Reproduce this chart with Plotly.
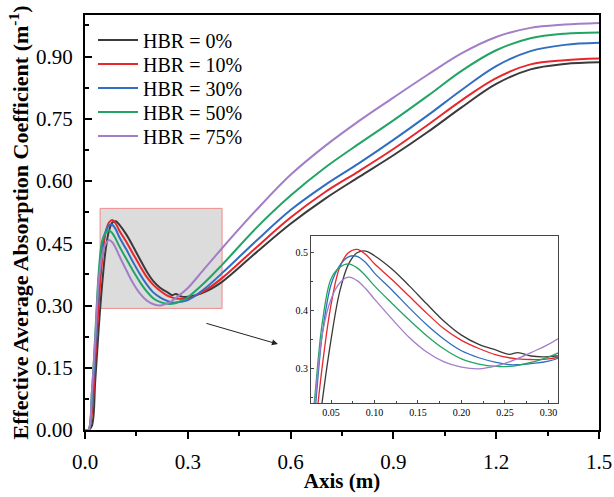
import plotly.graph_objects as go

x_axis_m = [0.0, 0.01, 0.02, 0.03, 0.04, 0.05, 0.06, 0.07, 0.08, 0.09, 0.10,
            0.12, 0.14, 0.16, 0.18, 0.20, 0.22, 0.24, 0.255, 0.265, 0.28, 0.30,
            0.35, 0.40, 0.50, 0.60, 0.70, 0.80, 0.90, 1.00, 1.10, 1.20,
            1.30, 1.40, 1.50]

hbr_0 = [0.0, 0.0, 0.01, 0.12, 0.245, 0.35, 0.433, 0.48, 0.50, 0.503, 0.495,
         0.472, 0.443, 0.412, 0.382, 0.358, 0.342, 0.332, 0.325, 0.328, 0.322, 0.321,
         0.333, 0.357, 0.428, 0.497, 0.557, 0.61, 0.662, 0.718, 0.778, 0.834,
         0.869, 0.882, 0.886]
hbr_10 = [0.0, 0.0, 0.04, 0.17, 0.305, 0.41, 0.475, 0.50, 0.506, 0.497, 0.481,
          0.454, 0.425, 0.396, 0.369, 0.349, 0.335, 0.324, 0.319, 0.317, 0.316, 0.317,
          0.336, 0.366, 0.44, 0.512, 0.573, 0.624, 0.677, 0.735, 0.795, 0.848,
          0.881, 0.891, 0.895]
hbr_30 = [0.0, 0.0, 0.07, 0.20, 0.36, 0.445, 0.478, 0.493, 0.494, 0.483, 0.465,
          0.436, 0.405, 0.376, 0.351, 0.331, 0.319, 0.311, 0.307, 0.307, 0.309, 0.313,
          0.341, 0.378, 0.456, 0.530, 0.590, 0.643, 0.699, 0.758, 0.820, 0.877,
          0.913, 0.928, 0.933]
hbr_50 = [0.0, 0.0, 0.09, 0.23, 0.38, 0.455, 0.475, 0.481, 0.474, 0.460, 0.443,
          0.413, 0.384, 0.357, 0.334, 0.317, 0.308, 0.304, 0.304, 0.306, 0.311, 0.32,
          0.356, 0.398, 0.487, 0.565, 0.632, 0.690, 0.746, 0.805, 0.866, 0.915,
          0.944, 0.955, 0.958]
hbr_75 = [0.0, 0.0, 0.09, 0.22, 0.36, 0.42, 0.448, 0.458, 0.452, 0.438, 0.42,
          0.386, 0.354, 0.329, 0.312, 0.303, 0.300, 0.305, 0.312, 0.318, 0.328, 0.342,
          0.39, 0.438, 0.530, 0.615, 0.684, 0.745, 0.801, 0.856, 0.908, 0.947,
          0.969, 0.977, 0.981]

series_names = ["HBR = 0%", "HBR = 10%", "HBR = 30%", "HBR = 50%", "HBR = 75%"]
series_values = [hbr_0, hbr_10, hbr_30, hbr_50, hbr_75]
series_colors = ["#3a3a3a", "#e8262b", "#2f6ec0", "#22a464", "#a27ec8"]

x_ticks = [0.0, 0.3, 0.6, 0.9, 1.2, 1.5]
y_ticks = [0.00, 0.15, 0.30, 0.45, 0.60, 0.75, 0.90]
inset_x_ticks = [0.05, 0.10, 0.15, 0.20, 0.25, 0.30]
inset_y_ticks = [0.3, 0.4, 0.5]

FONT = "Liberation Serif"
legend_ids = ["legend", "legend2", "legend3", "legend4", "legend5"]
legend_rows_px = [40, 64, 88, 112, 136]

fig = go.Figure()
for name, vals, col, lid in zip(series_names, series_values, series_colors, legend_ids):
    fig.add_trace(go.Scatter(x=x_axis_m, y=vals, mode="lines", name=name,
                             line=dict(color=col, width=2, shape="spline"),
                             xaxis="x", yaxis="y", legend=lid))
for name, vals, col in zip(series_names, series_values, series_colors):
    fig.add_trace(go.Scatter(x=x_axis_m, y=vals, mode="lines", name=name,
                             line=dict(color=col, width=1.3, shape="spline"),
                             xaxis="x2", yaxis="y2", showlegend=False))

# zoom region box
fig.add_shape(type="rect", xref="x", yref="y", x0=0.044, x1=0.40, y0=0.293, y1=0.534,
              fillcolor="#dcdcdc", line=dict(color="#f08a8a", width=1), layer="below")

# arrow
fig.add_annotation(xref="x", yref="y", axref="x", ayref="y",
                   x=0.563, y=0.207, ax=0.350, ay=0.258, text="",
                   showarrow=True, arrowhead=2, arrowsize=1.2, arrowwidth=1,
                   arrowcolor="#222222")

legend_layout = {}
for lid, py in zip(legend_ids, legend_rows_px):
    legend_layout[lid] = dict(x=0.0156, y=(430 - py) / 415, xanchor="left", yanchor="middle",
                              bgcolor="rgba(0,0,0,0)", font=dict(size=20, family=FONT),
                              itemwidth=40)

fig.update_layout(
    width=614, height=497,
    margin=dict(l=85, r=15, t=15, b=67),
    paper_bgcolor="white", plot_bgcolor="white",
    font=dict(family=FONT, color="black"),
    showlegend=True,
    **legend_layout,
    xaxis=dict(domain=[0, 1], range=[0, 1.5], tickvals=x_ticks,
               ticktext=[f"{v:.1f}" for v in x_ticks], automargin=False,
               ticks="outside", ticklen=7, tickwidth=2, tickcolor="black",
               minor=dict(ticks="outside", ticklen=4, tickwidth=1.5, dtick=0.15,
                          tickcolor="black"),
               showline=True, linewidth=2, linecolor="black", mirror=True,
               showgrid=False, zeroline=False,
               tickfont=dict(size=21, family=FONT), ticklabelstandoff=5,
               title=dict(text="<b>Axis (m)</b>", font=dict(size=21, family=FONT),
                          standoff=0)),
    yaxis=dict(domain=[0, 1], range=[0, 1.0], tickvals=y_ticks,
               ticktext=[f"{v:.2f}" for v in y_ticks], automargin=False,
               ticks="inside", ticklen=7, tickwidth=2, tickcolor="black",
               minor=dict(ticks="inside", ticklen=4, tickwidth=1.5, dtick=0.075,
                          tickcolor="black"),
               showline=True, linewidth=2, linecolor="black", mirror=True,
               showgrid=False, zeroline=False,
               tickfont=dict(size=21, family=FONT), ticklabelstandoff=6,
               title=dict(text="<b>Effective Average Absorption Coefficient (m<sup>-1</sup>)</b>",
                          font=dict(size=22, family=FONT), standoff=1)),
    xaxis2=dict(domain=[0.4397, 0.9202], anchor="y2", range=[0.027, 0.311],
                tickvals=inset_x_ticks, ticktext=[f"{v:.2f}" for v in inset_x_ticks],
                ticks="inside", ticklen=3, tickwidth=1, tickcolor="#444",
                minor=dict(ticks="inside", ticklen=2, dtick=0.025, tickcolor="#444"),
                showline=True, linewidth=1, linecolor="#444", mirror=True,
                showgrid=False, zeroline=False,
                tickfont=dict(size=10, family=FONT)),
    yaxis2=dict(domain=[0.0651, 0.4675], anchor="x2", range=[0.241, 0.529],
                tickvals=inset_y_ticks, ticktext=[f"{v:.1f}" for v in inset_y_ticks],
                ticks="inside", ticklen=3, tickwidth=1, tickcolor="#444",
                minor=dict(ticks="inside", ticklen=2, dtick=0.05, tickcolor="#444"),
                showline=True, linewidth=1, linecolor="#444", mirror=True,
                showgrid=False, zeroline=False,
                tickfont=dict(size=10, family=FONT)),
)

fig.write_html("out.html", config={"displayModeBar": False},
               post_script="document.body.style.margin='0px';")
